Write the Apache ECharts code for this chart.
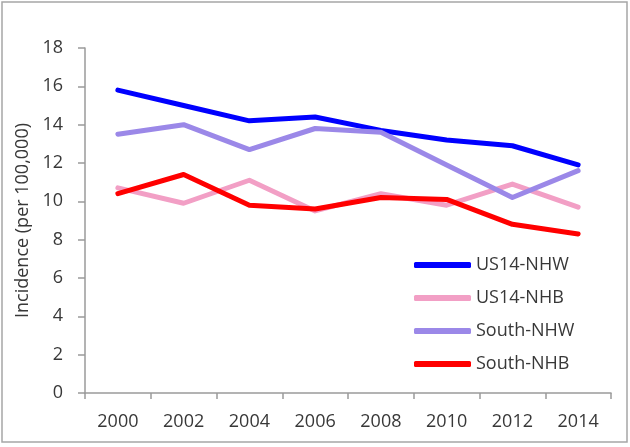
<!DOCTYPE html>
<html><head><meta charset="utf-8">
<script src="https://cdn.jsdelivr.net/npm/echarts@6/dist/echarts.min.js"></script>
<style>html,body{margin:0;padding:0;background:#fff}#c{width:630px;height:447px}</style>
</head><body><div id="c"></div>
<script>
const years = ['2000','2002','2004','2006','2008','2010','2012','2014'];
const us14NHW = [15.8, 15.0, 14.2, 14.4, 13.7, 13.2, 12.9, 11.9];
const us14NHB = [10.7, 9.9, 11.1, 9.5, 10.4, 9.8, 10.9, 9.7];
const southNHW = [13.5, 14.0, 12.7, 13.8, 13.6, 11.9, 10.2, 11.6];
const southNHB = [10.4, 11.4, 9.8, 9.6, 10.2, 10.1, 8.8, 8.3];
const seriesNames = ['US14-NHW','US14-NHB','South-NHW','South-NHB'];
const seriesColors = ['#0000ff','#f29fc5','#9b88e8','#ff0000'];
const seriesData = [us14NHW, us14NHB, southNHW, southNHB];

const font = '"Open Sans", "Noto Sans", sans-serif';
const txt = '#383838';
const chart = echarts.init(document.getElementById('c'), null, {renderer:'canvas'});
chart.setOption({
  animation: false,
  backgroundColor: '#fff',
  graphic: [{type:'rect', shape:{x:2,y:2,width:625,height:440}, style:{fill:'none', stroke:'#a6a6a6', lineWidth:1.5}, silent:true}],
  grid: {left: 85, right: 19, top: 48, bottom: 54},
  legend: {
    orient: 'vertical', left: 409, top: 251, itemWidth: 57, itemHeight: 6, itemGap: 15,
    icon: 'roundRect',
    textStyle: {fontFamily: font, fontSize: 18, color: txt},
    data: seriesNames
  },
  xAxis: {
    type: 'category', data: years, boundaryGap: true,
    axisLine: {lineStyle: {color: '#9a9a9a', width: 1.5}},
    axisTick: {show: true, length: 6, lineStyle: {color: '#9a9a9a', width: 1.5}},
    axisLabel: {fontFamily: font, fontSize: 18, color: txt, margin: 20}
  },
  yAxis: {
    type: 'value', min: 0, max: 18, interval: 2,
    name: 'Incidence (per 100,000)', nameLocation: 'middle', nameGap: 48,
    nameTextStyle: {fontFamily: font, fontSize: 18, color: txt},
    axisLine: {show: true, lineStyle: {color: '#9a9a9a', width: 1.5}},
    axisTick: {show: true, length: 7, lineStyle: {color: '#9a9a9a', width: 1.5}},
    splitLine: {show: false},
    axisLabel: {fontFamily: font, fontSize: 18, color: txt, margin: 22}
  },
  series: seriesNames.map((n, i) => ({
    name: n, type: 'line', data: seriesData[i], symbol: 'none',
    lineStyle: {color: seriesColors[i], width: 5, cap: 'round', join: 'round'},
    itemStyle: {color: seriesColors[i]}
  }))
});
</script></body></html>
